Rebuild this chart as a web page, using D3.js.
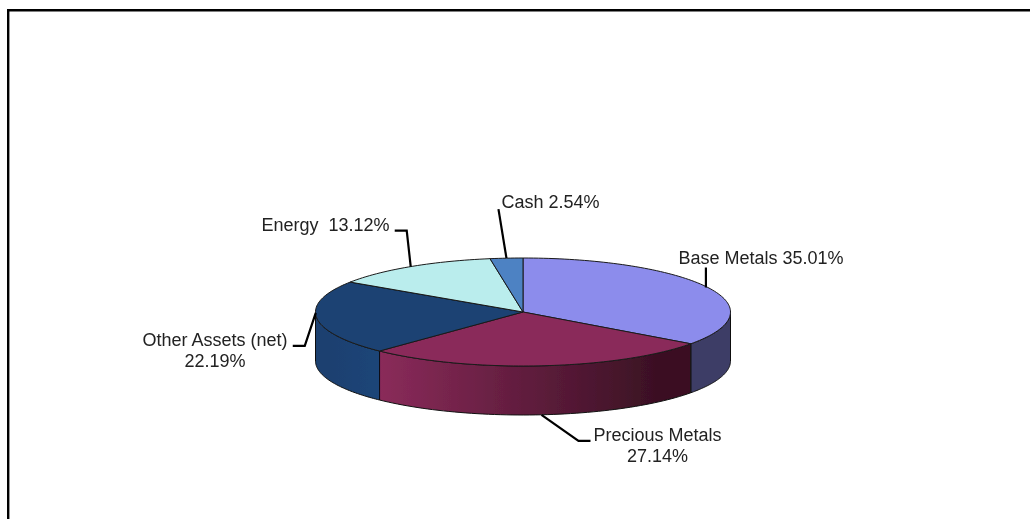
<!DOCTYPE html>
<html><head><meta charset="utf-8">
<script src="https://cdn.jsdelivr.net/npm/d3@7"></script>
<style>html,body{margin:0;padding:0;background:#fff}svg{display:block}text{font-family:"Liberation Sans",Arial,sans-serif;font-size:18px;fill:#222;white-space:pre}</style>
</head><body><svg id="c" width="1030" height="519"></svg>
<script>
const categories=["Base Metals","Precious Metals","Other Assets (net)","Energy","Cash"];
const values=[35.01,27.14,22.19,13.12,2.54];
const valueLabels=["35.01%","27.14%","22.19%","13.12%","2.54%"];
const topColors=["#8C8CEC","#8A2B5A","#1B4273","#BAEDED","#4D82C3"];
const sideStops=[["#3D3D66","#3D3D66"],["#8A2B5A","#3A1023"],["#1A3F6E","#1C4578"],["#1C4578","#1C4578"],["#2A4A70","#2A4A70"]];

const W=1030,H=519,cx=523,cy=312,rx=207.5,ry=54,depth=49;
const svg=d3.select("#c");
const defs=svg.append("defs");
const soft=defs.append("filter").attr("id","soft").attr("x","-5%").attr("y","-5%").attr("width","110%").attr("height","110%");
soft.append("feGaussianBlur").attr("stdDeviation",0.4);

const root=svg.append("g").attr("filter","url(#soft)");
root.append("rect").attr("width",W).attr("height",H).attr("fill","#fff");
root.append("path").attr("d",`M8.2,${H+5}V10.2H${W+5}`).attr("fill","none").attr("stroke","#000").attr("stroke-width",2.4);

const pie=d3.pie().value(d=>d).sort(null).startAngle(0).endAngle(2*Math.PI);
const arcs=pie(values);
const sx=d3.scaleLinear().domain([-1,1]).range([cx-rx,cx+rx]);
const sy=d3.scaleLinear().domain([-1,1]).range([cy-ry,cy+ry]);
const ptX=a=>sx(Math.sin(a)), ptY=a=>sy(-Math.cos(a));

const rim=d3.line();
arcs.forEach((d,i)=>{
  const a0=Math.max(d.startAngle,Math.PI/2),a1=Math.min(d.endAngle,3*Math.PI/2);
  if(a1<=a0)return;
  const angs=d3.range(0,61).map(k=>a0+(a1-a0)*k/60);
  const upper=angs.map(a=>[ptX(a),ptY(a)]);
  const lower=angs.slice().reverse().map(a=>[ptX(a),ptY(a)+depth]);
  const xs=upper.map(p=>p[0]);
  const id="side"+i;
  const g=defs.append("linearGradient").attr("id",id).attr("gradientUnits","userSpaceOnUse")
    .attr("x1",d3.min(xs)).attr("x2",d3.max(xs)).attr("y1",0).attr("y2",0);
  g.append("stop").attr("offset","0%").attr("stop-color",sideStops[i][0]);
  if(i===1)g.append("stop").attr("offset","90%").attr("stop-color",sideStops[i][1]);
  g.append("stop").attr("offset","100%").attr("stop-color",sideStops[i][1]);
  root.append("path").attr("d",rim(upper.concat(lower))+"Z").attr("fill",`url(#${id})`)
    .attr("stroke","#111").attr("stroke-width",1).attr("stroke-linejoin","round");
});

const sliceLine=d3.line();
arcs.forEach((d,i)=>{
  const n=Math.max(8,Math.ceil((d.endAngle-d.startAngle)*40));
  const pts=[[cx,cy]].concat(d3.range(0,n+1).map(k=>{const a=d.startAngle+(d.endAngle-d.startAngle)*k/n;return [ptX(a),ptY(a)];}));
  root.append("path").attr("d",sliceLine(pts)+"Z").attr("fill",topColors[i])
    .attr("stroke","#1a1a1a").attr("stroke-width",1).attr("stroke-linejoin","round");
});

const leaderElbows=[[[0,-20]],[[37,26],[49,26]],[[-11,33],[-23,33]],[[-4,-36],[-16,-36]],[[-8,-49]]];
const leaderStartDrop=[0,depth,0,0,0];
const leaderStartAdjust=[[-2,0],[0,0],[-1,-5],[0,0],[0,0]];
const leader=d3.line();
arcs.forEach((d,i)=>{
  const m=(d.startAngle+d.endAngle)/2;
  const x0=ptX(m)+leaderStartAdjust[i][0],y0=ptY(m)+leaderStartDrop[i]+leaderStartAdjust[i][1];
  const pts=[[x0,y0]].concat(leaderElbows[i].map(o=>[x0+o[0],y0+o[1]]));
  root.append("path").attr("d",leader(pts)).attr("fill","none").attr("stroke","#000").attr("stroke-width",2.2);
});

const labelLayout=[
 {lines:[categories[0]+" "+valueLabels[0]],x:761,y:264},
 {lines:[categories[1],valueLabels[1]],x:657.5,y:441},
 {lines:[categories[2],valueLabels[2]],x:215,y:346},
 {lines:[categories[3]+"  "+valueLabels[3]],x:325.5,y:231},
 {lines:[categories[4]+" "+valueLabels[4]],x:550.5,y:208}
];
labelLayout.forEach(l=>{
  l.lines.forEach((t,k)=>{
    root.append("text").attr("x",l.x).attr("y",l.y+k*21).attr("text-anchor","middle").text(t);
  });
});
</script></body></html>
